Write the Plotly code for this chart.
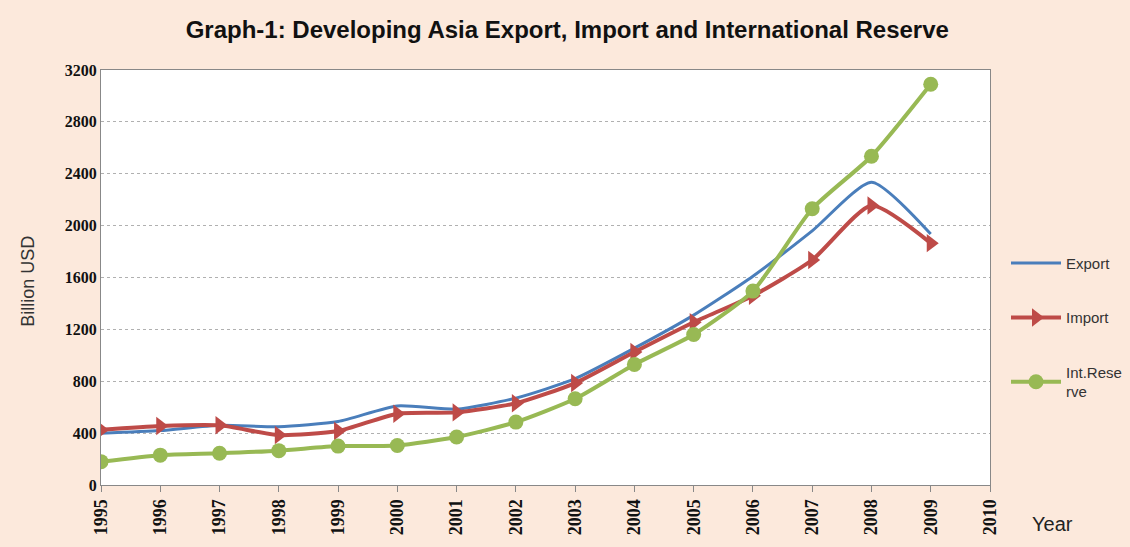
import plotly.graph_objects as go

years = list(range(1995, 2010))
export_vals = [400, 420, 460, 450, 490, 610, 585, 670, 820, 1055, 1310, 1610, 1960, 2335, 1935]
import_vals = [425, 455, 460, 385, 416, 550, 560, 630, 786, 1025, 1255, 1460, 1735, 2155, 1865]
reserve_vals = [180, 230, 245, 265, 300, 305, 370, 485, 665, 930, 1160, 1495, 2130, 2535, 3090]
x_ticks = list(range(1995, 2011))
y_ticks = list(range(0, 3201, 400))

fig = go.Figure()
fig.add_trace(go.Scatter(x=years, y=export_vals, name="Export", mode="lines", legendgroup="a",
                         line=dict(color="#4a7ebb", width=3, shape="spline", smoothing=0.6)))
fig.add_trace(go.Scatter(x=years, y=import_vals, name="Import", mode="lines+markers", legendgroup="b",
                         line=dict(color="#be4b48", width=4, shape="spline", smoothing=0.6),
                         marker=dict(symbol="triangle-right", size=16, color="#be4b48")))
fig.add_trace(go.Scatter(x=years, y=reserve_vals, name="Int.Rese<br>rve", mode="lines+markers", legendgroup="c",
                         line=dict(color="#98b954", width=4, shape="spline", smoothing=0.6),
                         marker=dict(symbol="circle", size=15, color="#98b954")))

fig.update_layout(
    width=1130, height=547,
    paper_bgcolor="#fce9dc", plot_bgcolor="white",
    margin=dict(l=101, r=140, t=70, b=62, autoexpand=False),
    title=dict(text="<b>Graph-1: Developing Asia Export, Import and International Reserve</b>",
               x=0.502, xanchor="center", y=0.945, yanchor="middle", yref="container",
               font=dict(family="Liberation Sans Narrow, Arial Narrow, sans-serif", size=24, color="#111")),
    showlegend=True,
    legend=dict(x=1.018, xanchor="left", y=0.38, yanchor="middle", bgcolor="rgba(0,0,0,0)",
                font=dict(family="Liberation Sans, Arial", size=15, color="#333"),
                tracegroupgap=32, itemwidth=50),
    font=dict(family="Liberation Serif, serif", color="#222"),
)
fig.update_xaxes(range=[1995, 2010], tickmode="array", tickvals=x_ticks,
                 ticktext=[f"<b>{v}</b>" for v in x_ticks], tickangle=-90, automargin=False,
                 tickfont=dict(family="Liberation Serif, serif", size=18, color="#111"),
                 showgrid=False, showline=True, linecolor="#888", mirror=True,
                 ticks="outside", ticklen=6, tickcolor="#888", zeroline=False)
fig.update_yaxes(range=[0, 3200], tickmode="array", tickvals=y_ticks,
                 ticktext=[f"<b>{v}</b>" for v in y_ticks], automargin=False,
                 tickfont=dict(family="Liberation Serif, serif", size=16, color="#111"),
                 showgrid=True, gridcolor="#b0b0b0", griddash="dot", gridwidth=1,
                 showline=True, linecolor="#888", mirror=True, zeroline=False)
fig.add_annotation(text="Billion USD", xref="paper", yref="paper", x=-0.082, y=0.49,
                   xanchor="center", yanchor="middle", showarrow=False, textangle=-90,
                   font=dict(family="Liberation Sans, Arial", size=18, color="#333"))
fig.add_annotation(text="Year", xref="paper", yref="paper", x=1.07, y=-0.095,
                   xanchor="center", yanchor="middle", showarrow=False,
                   font=dict(family="Liberation Sans Narrow, Arial Narrow, sans-serif", size=20, color="#222"))

fig.write_html("out.html", config={"displayModeBar": False},
               post_script="document.body.style.margin='0';document.body.style.overflow='hidden';")
